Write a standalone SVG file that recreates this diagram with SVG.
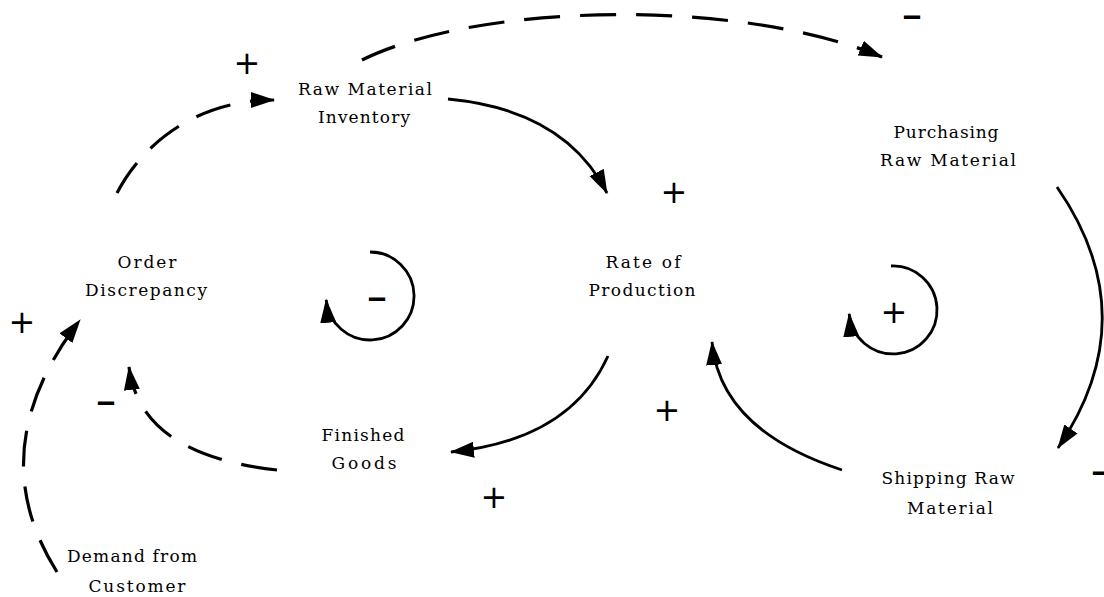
<svg xmlns="http://www.w3.org/2000/svg" width="1104" height="597" viewBox="0 0 1104 597">
<style>
.lbl{font-family:"DejaVu Serif","Liberation Serif",serif;font-size:17px;fill:#000;text-anchor:middle}
.sgn{font-family:"DejaVu Sans","Liberation Sans",sans-serif;font-size:32px;fill:#000;text-anchor:middle}
.neg{font-family:"DejaVu Sans","Liberation Sans",sans-serif;font-size:24px;font-weight:bold;fill:#000;text-anchor:middle}
.solid{fill:none;stroke:#000;stroke-width:2.8;marker-end:url(#ah)}
.dash{fill:none;stroke:#000;stroke-width:3.2;stroke-dasharray:36 20;marker-end:url(#ah)}
</style>
<defs>
<marker id="ah" markerUnits="userSpaceOnUse" markerWidth="26" markerHeight="18" refX="23" refY="8" orient="auto">
<path d="M0,0 L24,8 L0,16 Z" fill="#000" stroke="none"/>
</marker>
</defs>
<rect width="1104" height="597" fill="#fff"/>
<g id="connectors">
<path class="dash" d="M117,193 C145,140 200,100 274,100"/>
<path class="dash" d="M362,60 C480,2 740,-2 882,57"/>
<path class="solid" d="M448,99 Q565,110 607,193"/>
<path class="solid" d="M1057,187 Q1147,317 1058,448"/>
<path class="solid" d="M842,470 Q720,430 712,342"/>
<path class="solid" d="M608,356 Q570,440 451,452"/>
<path class="dash" d="M277,470 Q140,455 129,367"/>
<path class="dash" d="M57,572 Q-20,450 80,320"/>
<path class="solid" d="M370,252 A44,44 0 1 1 326.2,299.8"/>
<path class="solid" d="M891,266 A44,44 0 1 1 849.2,313.8"/>
</g>
<g id="raw-material-inventory">
<text class="lbl" x="365" y="95" textLength="134">Raw Material</text>
<text class="lbl" x="364" y="123" textLength="92">Inventory</text>
</g>
<g id="purchasing-raw-material">
<text class="lbl" x="946" y="138" textLength="105">Purchasing</text>
<text class="lbl" x="948" y="166" textLength="136">Raw Material</text>
</g>
<g id="order-discrepancy">
<text class="lbl" x="147" y="268" textLength="59">Order</text>
<text class="lbl" x="146" y="296" textLength="122">Discrepancy</text>
</g>
<g id="rate-of-production">
<text class="lbl" x="643" y="268" textLength="75">Rate of</text>
<text class="lbl" x="642" y="296" textLength="107">Production</text>
</g>
<g id="finished-goods">
<text class="lbl" x="363" y="441" textLength="83">Finished</text>
<text class="lbl" x="364" y="469" textLength="65">Goods</text>
</g>
<g id="shipping-raw-material">
<text class="lbl" x="948" y="484" textLength="133">Shipping Raw</text>
<text class="lbl" x="950" y="514" textLength="86">Material</text>
</g>
<g id="demand-from-customer">
<text class="lbl" x="132" y="562" textLength="130">Demand from</text>
<text class="lbl" x="137" y="592" textLength="97">Customer</text>
</g>
<g id="polarity-signs">
<text class="sgn" x="247" y="74">+</text>
<text class="sgn" x="674" y="203">+</text>
<text class="sgn" x="22" y="333">+</text>
<text class="sgn" x="494" y="508">+</text>
<text class="sgn" x="667" y="421">+</text>
<text class="sgn" x="894" y="323">+</text>
<text class="neg" x="912" y="24" textLength="22" lengthAdjust="spacingAndGlyphs">-</text>
<text class="neg" x="106" y="410" textLength="22" lengthAdjust="spacingAndGlyphs">-</text>
<text class="neg" x="377" y="306" textLength="22" lengthAdjust="spacingAndGlyphs">-</text>
<text class="neg" x="1101" y="480" textLength="22" lengthAdjust="spacingAndGlyphs">-</text>
</g>
</svg>
